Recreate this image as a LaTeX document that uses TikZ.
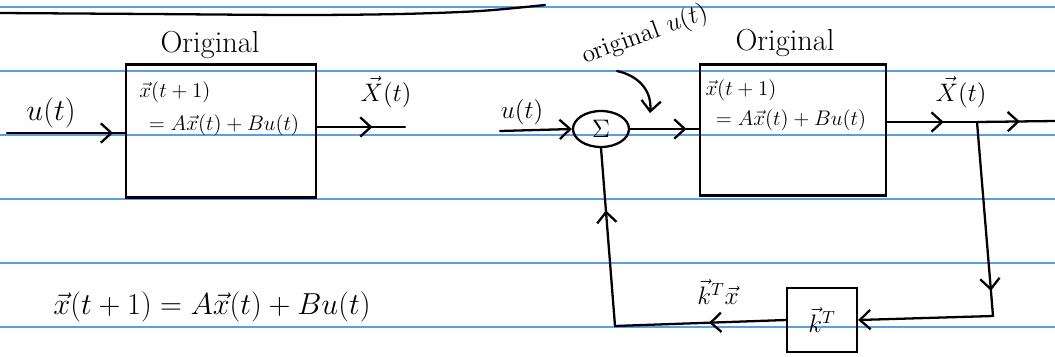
\documentclass[tikz,border=0pt]{standalone}
\usepackage{amsmath}
\usepackage{amssymb}
\usepackage{tikz}
\usetikzlibrary{arrows.meta,shapes.geometric,decorations.markings,positioning,calc}
\usepackage{xcolor}
\definecolor{ruleblue}{RGB}{92,156,232}

\begin{document}
\begin{tikzpicture}[x=0.02cm,y=-0.02cm,
    ink/.style={line width=1.3pt,black,line cap=round,line join=round},
    tip/.style={postaction={decorate},decoration={markings,mark=at position #1 with {\arrow{Straight Barb[length=6pt,width=11pt]}}}},
    tipend/.style={-{Straight Barb[length=6pt,width=11pt]}},
    block/.style={draw,line width=1.3pt,inner sep=0pt},
    sumnode/.style={draw,ellipse,line width=1.3pt,inner sep=0pt,minimum width=1.12cm,minimum height=0.72cm}]
    % Paper
    \fill[white] (0,0) rectangle (1055,356);
    \useasboundingbox (0,0) rectangle (1055,356);
    \foreach \y in {7,71,135,199,263,327}
        \draw[ruleblue,line width=0.7pt] (0,\y) -- (1055,\y);
    \draw[ink] plot[smooth] coordinates {(0,13) (150,14) (300,15) (400,14) (480,11) (545,5)};

    % Open-loop system
    \node[font=\LARGE] (origL) at (210,45) {Original};
    \node[block,minimum width=3.8cm,minimum height=2.66cm] (sysL) at (221,131) {};
    \node[font=\large] (eqLa) at (175,92) {$\vec{x}(t+1)$};
    \node[font=\large] (eqLb) at (224,125) {$= A\vec{x}(t)+Bu(t)$};
    \node[font=\LARGE] (uL) at (51,113) {$u(t)$};
    \node[font=\Large] (xL) at (386,92) {$\vec{X}(t)$};
    \coordinate (inL) at (7,133);
    \coordinate (outL) at (405,127);

    \draw[ink,tip=0.9] (inL) -- (sysL.west |- inL);
    \draw[ink,tip=0.63] (sysL.east |- outL) -- (outL);

    % Closed loop with state feedback
    \node[font=\LARGE] (origR) at (785,43) {Original};
    \node[block,minimum width=3.72cm,minimum height=2.62cm] (sysR) at (793,130) {};
    \node[font=\large] (eqRa) at (741,90) {$\vec{x}(t+1)$};
    \node[font=\large] (eqRb) at (791,120) {$= A\vec{x}(t)+Bu(t)$};
    \node[sumnode] (sum) at (601,129) {\Large$\Sigma$};
    \node[font=\Large] (uR) at (522,112) {$u(t)$};
    \node[font=\Large,rotate=20] (note) at (645,35) {original $u(t)$};
    \node[font=\Large] (xR) at (961,92) {$\vec{X}(t)$};
    \node[block,minimum width=1.4cm,minimum height=1.28cm] (gain) at (822,320) {\Large$\vec{k}^T$};
    \node[font=\Large] (fb) at (718,292) {$\vec{k}^T\vec{x}$};
    \coordinate (inR) at (500,131);
    \coordinate (noteStart) at (617,71);
    \coordinate (noteEnd) at (650,113);
    \coordinate (br) at (977,122);
    \coordinate (outR) at (1055,121);
    \coordinate (cR) at (993,316);
    \coordinate (cBL) at (615,326);

    % Arrows
    \draw[ink,tipend] (inR) -- (sum.west);
    \draw[ink,tipend] (noteStart) .. controls (640,76) and (652,92) .. (noteEnd);
    \draw[ink,tip=0.82] (sum.east) -- (sysR.west |- sum.east);
    \draw[ink,tip=0.63] (sysR.east |- br) -- (br);
    \draw[ink,tip=0.55] (br) -- (outR);
    \draw[ink,tip=0.87] (br) -- (cR);
    \draw[ink,tipend] (cR) -- (gain.east);
    \draw[ink,tip=0.45] (gain.west) -- (cBL);
    \draw[ink,tip=0.65] (cBL) -- (sum.south);

    % Model equation
    \node[font=\LARGE] (eqBot) at (212,307) {$\vec{x}(t+1) = A\vec{x}(t) + Bu(t)$};
\end{tikzpicture}
\end{document}
